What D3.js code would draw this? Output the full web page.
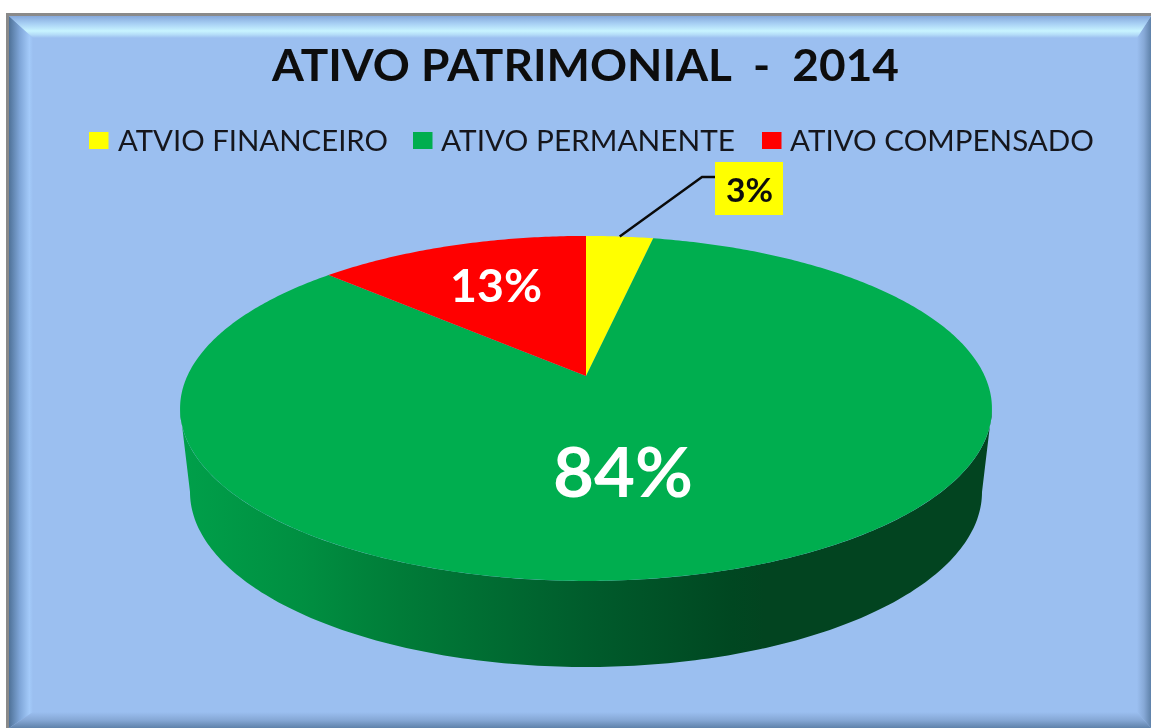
<!DOCTYPE html>
<html><head><meta charset="utf-8">
<script src="https://cdn.jsdelivr.net/npm/d3@7"></script>
<style>html,body{margin:0;padding:0;background:#fff;overflow:hidden}svg{display:block}text{font-family:Lato,"Open Sans",sans-serif}</style>
</head><body><svg id="c" width="1151" height="728"></svg>
<script>
const chartTitle = "ATIVO PATRIMONIAL  -  2014";
const categories = ["ATVIO FINANCEIRO", "ATIVO PERMANENTE", "ATIVO COMPENSADO"];
const values = [3.2, 83.8, 13];
const sliceColors = ["#FFFF00", "#00AE4F", "#FF0000"];

const svg = d3.select("#c");
const defs = svg.append("defs");
defs.append("filter").attr("id", "soft").append("feGaussianBlur").attr("stdDeviation", 0.55);
function grad(id, x1, y1, x2, y2, stops) {
  const g = defs.append("linearGradient").attr("id", id).attr("gradientUnits", "userSpaceOnUse")
    .attr("x1", x1).attr("y1", y1).attr("x2", x2).attr("y2", y2);
  stops.forEach(s => g.append("stop").attr("offset", s[0]).attr("stop-color", s[1]));
}
// frame + bevel
const L = 6, T = 13, R = 1151, B = 728, bw = 3;
const iL = L + bw, iT = T + bw, oL = 33, oT = 38, oR = 1137, oB = 712;
svg.append("rect").attr("x", L).attr("y", T).attr("width", R - L).attr("height", B - T).attr("fill", "#8a8a8a");
svg.append("rect").attr("x", iL).attr("y", iT).attr("width", R - iL).attr("height", B - iT).attr("fill", "#9BBFF0");
grad("gT", 0, iT, 0, oT, [[0, "#86a9dc"], [0.35, "#a8d0f4"], [0.68, "#c8f4ff"], [0.85, "#b4dcf8"], [1, "#9BBFF0"]]);
grad("gL", iL, 0, oL, 0, [[0, "#4f7298"], [0.45, "#7fa6d8"], [0.85, "#a3caf9"], [1, "#9BBFF0"]]);
grad("gR", oR, 0, R, 0, [[0, "#9BBFF0"], [0.5, "#86a8d6"], [1, "#5f82aa"]]);
grad("gB", 0, oB, 0, B, [[0, "#9BBFF0"], [0.5, "#86a8d6"], [1, "#5f82aa"]]);
const poly = pts => "M" + pts.map(p => p.join(",")).join("L") + "Z";
svg.append("path").attr("d", poly([[iL, iT], [oL, oT], [oL, oB], [iL, B]])).attr("fill", "url(#gL)");
svg.append("path").attr("d", poly([[R, iT], [oR, oT], [oR, oB], [R, B]])).attr("fill", "url(#gR)");
svg.append("path").attr("d", poly([[iL, B], [oL, oB], [oR, oB], [R, B]])).attr("fill", "url(#gB)");
svg.append("path").attr("d", poly([[iL, iT], [R, iT], [oR, oT], [oL, oT]])).attr("fill", "url(#gT)");

// title
svg.append("text").attr("x", 272).attr("y", 81).attr("font-size", 43).attr("font-weight", 700)
  .attr("fill", "#0c0c0c").style("white-space", "pre").attr("filter", "url(#soft)")
  .attr("textLength", 627).attr("lengthAdjust", "spacingAndGlyphs").text(chartTitle);

// legend
const legendSwatch = [89, 413, 762], legendText = [118, 441, 790], legendWidth = [270, 294, 304];
categories.forEach((c, i) => {
  svg.append("rect").attr("x", legendSwatch[i]).attr("y", 132).attr("width", 19.5).attr("height", 17).attr("fill", sliceColors[i]);
  svg.append("text").attr("x", legendText[i]).attr("y", 151).attr("font-size", 28).attr("fill", "#15181f").attr("filter", "url(#soft)")
    .attr("textLength", legendWidth[i]).attr("lengthAdjust", "spacingAndGlyphs").text(c);
});

// perspective disc: unit circle (u,v) projected
const cx = 586, apexY = 376, A = 398.7, By = 166.4, k = -0.188;
const proj = (a, r = 1) => {
  const u = r * Math.sin(a), v = -r * Math.cos(a), d = 1 + k * v;
  return [cx + A * u / d, apexY + By * v / d];
};
// side wall
const topEll = { cy: 408.5, rx: 406, ry: 172.5 }, botEll = { cy: 492, rx: 396, ry: 175 };
const ell = (e, t) => [cx + e.rx * Math.cos(t), e.cy + e.ry * Math.sin(t)];
const line = d3.line().curve(d3.curveLinear);
const N = d3.range(0, 181);
const rim = N.map(i => ell(topEll, Math.PI * i / 180));
const base = N.map(i => ell(botEll, Math.PI * i / 180)).reverse();
grad("gS", 180, 0, 992, 0, [[0, "#00a04a"], [0.15, "#008f41"], [0.27, "#007c38"], [0.5, "#005c2c"], [0.68, "#004721"], [0.72, "#024420"], [1, "#024420"]]);
svg.append("path").attr("d", line(rim.concat(base)) + "Z").attr("fill", "url(#gS)");

// slices
const arcs = d3.pie().sort(null).value(d => d).startAngle(0).endAngle(2 * Math.PI)(values);
svg.selectAll("path.slice").data(arcs).join("path").attr("class", "slice")
  .attr("fill", (d, i) => sliceColors[i])
  .attr("d", d => {
    const n = Math.max(8, Math.ceil((d.endAngle - d.startAngle) * 90));
    const pts = d3.range(n + 1).map(j => proj(d.startAngle + (d.endAngle - d.startAngle) * j / n));
    return line([[cx, apexY]].concat(pts)) + "Z";
  });

// leader and labels
const mid = d => (d.startAngle + d.endAngle) / 2;
svg.append("path").attr("fill", "none").attr("stroke", "#0a0a0a").attr("stroke-width", 2.4)
  .attr("d", line([proj(mid(arcs[0])), [702, 177], [715, 177]]));
svg.append("rect").attr("x", 715).attr("y", 162).attr("width", 68).attr("height", 53).attr("fill", "#FFFF00");
const pct = d3.format(".0f");
const labelPos = [[726, 202], [553, 497], [450, 302]], labelSize = [33, 68, 45], labelWidth = [47, 140, 92], labelFill = ["#0a0a0a", "#fff", "#fff"];
arcs.forEach((d, i) => {
  svg.append("text").attr("x", labelPos[i][0]).attr("y", labelPos[i][1])
    .attr("font-size", labelSize[i]).attr("font-weight", 700).attr("fill", labelFill[i]).attr("filter", "url(#soft)")
    .attr("textLength", labelWidth[i]).attr("lengthAdjust", "spacingAndGlyphs")
    .text(pct(d.value) + "%");
});
</script></body></html>
